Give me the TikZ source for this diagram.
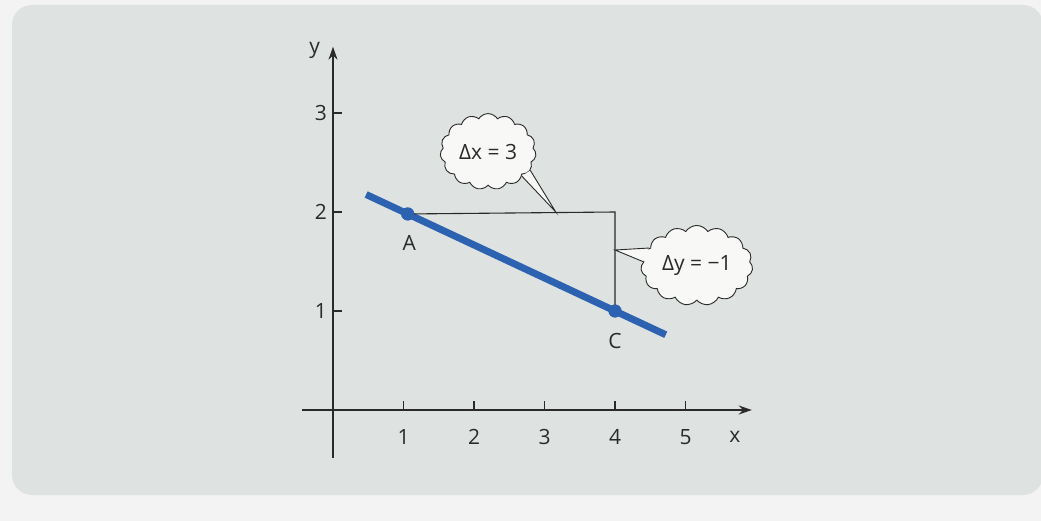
\documentclass[tikz,border=0pt]{standalone}
\usepackage{fontspec}
\setmainfont{Open Sans}
\usetikzlibrary{arrows.meta,shapes.symbols}
\definecolor{paper}{HTML}{F3F3F3}
\definecolor{panel}{HTML}{DEE3E2}
\definecolor{slope}{HTML}{2D62B0}
\definecolor{puff}{HTML}{F8F8F6}
\definecolor{ink}{HTML}{2A2A2A}
\tikzset{axis/.style={line width=1.4pt,draw=ink,-{Stealth[length=13pt,width=9pt]}},
  tick/.style={line width=1.2pt,draw=ink},
  lbl/.style={font=\fontsize{21}{25}\selectfont,text=ink,inner sep=1pt},
  cloudbox/.style={cloud,cloud puffs=15,cloud puff arc=115,cloud ignores aspect,
    draw=ink,line width=0.9pt,fill=puff,inner sep=0pt,
    font=\fontsize{21}{25}\selectfont,text=ink},
  tail/.style={draw=ink,line width=0.9pt,fill=puff},
  dot/.style={circle,fill=slope,inner sep=0pt,minimum size=13pt},
  guide/.style={line width=1.1pt,draw=ink}}

\begin{document}
\begin{tikzpicture}[x=1pt,y=-1pt]
  \useasboundingbox (0,0) rectangle (1041,521);
  \fill[paper] (0,0) rectangle (1041,521);
  \fill[panel,rounded corners=20pt] (12,5) rectangle (1043,495);
  \begin{scope}[shift={(333,410)},x=70.5pt,y=99pt]
    % axes
    \draw[axis] (-0.44,0) -- (5.94,0);
    \draw[axis] (0,-0.48) -- (0,3.67);
    \foreach \i in {1,...,5}{
      \draw[tick] (\i,0) -- (\i,0.09);
      \node[lbl] (xl\i) at (\i,-0.27) {\i};}
    \foreach \j in {1,2,3}{
      \draw[tick] (0,\j) -- (0.13,\j);
      \node[lbl,anchor=east] (yl\j) at (-0.07,\j) {\j};}
    \node[lbl] (xname) at (5.70,-0.27) {x};
    \node[lbl] (yname) at (-0.26,3.63) {y};
    % slope line and points
    \coordinate (lstart) at (0.47,2.177);
    \coordinate (lend) at (4.72,0.76);
    \draw[slope,line width=7pt] (lstart) -- (lend);
    \coordinate (corner) at (4,2);
    \node[dot] (A) at (1.06,1.98) {};
    \node[dot] (C) at (4,1) {};
    \draw[guide] (A.center) -- (corner) -- (C.center);
    \node[dot] at (A) {};
    \node[dot] at (C) {};
    \node[lbl] (Alab) at (1.08,1.69) {A};
    \node[lbl] (Clab) at (4,0.70) {C};
    % callouts
    \coordinate (dxtip) at (3.16,2);
    \coordinate (dytip) at (4,1.616);
    \node[cloudbox,minimum width=96pt,minimum height=76pt] (dx) at (2.2,2.61) {Δx = 3};
    \node[cloudbox,minimum width=112pt,minimum height=80pt] (dy) at (5.16,1.46) {Δy = −1};
    \filldraw[tail] (dx.-36) -- (dxtip) -- (dx.-24);
    \filldraw[tail] (dy.160) -- (dytip) -- (dy.176);
  \end{scope}
\end{tikzpicture}
\end{document}
